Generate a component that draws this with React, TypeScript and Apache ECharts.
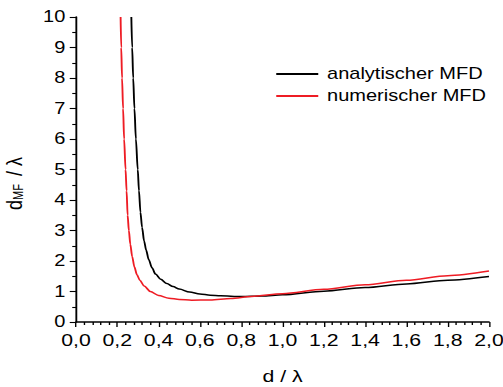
import React, { useEffect, useRef } from "react";
import * as echarts from "echarts";

const xMin = 0;
const xMax = 2;
const xStep = 0.2;
const yMin = 0;
const yMax = 10;
const yStep = 1;

const seriesNames = ["analytischer MFD", "numerischer MFD"];

const dAnalytic = [0.268, 0.272, 0.277, 0.283, 0.29, 0.299, 0.305, 0.312, 0.32, 0.33, 0.34, 0.352, 0.368, 0.385, 0.41, 0.44, 0.47, 0.5, 0.55, 0.6, 0.65, 0.7, 0.8, 0.9, 1.0, 1.2, 1.4, 1.6, 1.8, 2.0];
const mfdAnalytic = [10, 9, 8, 7, 6, 5, 4.3, 3.6, 3.1, 2.65, 2.35, 2.05, 1.78, 1.57, 1.4, 1.26, 1.16, 1.08, 0.98, 0.92, 0.88, 0.86, 0.835, 0.85, 0.89, 1.01, 1.13, 1.25, 1.37, 1.49];

const dNumeric = [0.216, 0.219, 0.223, 0.228, 0.233, 0.24, 0.245, 0.25, 0.256, 0.263, 0.272, 0.283, 0.295, 0.31, 0.33, 0.36, 0.4, 0.45, 0.5, 0.56, 0.65, 0.75, 0.85, 1.0, 1.2, 1.4, 1.6, 1.8, 2.0];
const mfdNumeric = [10, 9, 8, 7, 6, 5, 4.3, 3.5, 3.0, 2.55, 2.15, 1.8, 1.55, 1.36, 1.18, 1.0, 0.87, 0.78, 0.74, 0.715, 0.72, 0.77, 0.84, 0.93, 1.07, 1.22, 1.37, 1.52, 1.67];

const FONT = "'Liberation Sans', Arial, sans-serif";
const FULL_W = 503;
const BASE_W = 402;
const SX = FULL_W / BASE_W;

export default function App() {
  const ref = useRef<HTMLDivElement>(null);
  useEffect(() => {
    if (!ref.current) return;
    const chart = echarts.init(ref.current, undefined, { renderer: "svg" });
    const zip = (xs: number[], ys: number[]) => xs.map((x, i) => [x, ys[i]]);
    chart.setOption({
      animation: false,
      backgroundColor: "#fff",
      textStyle: { fontFamily: FONT },
      grid: { left: 76 / SX, right: 14 / SX, top: 17, bottom: 65, containLabel: false, outerBoundsMode: "none" },
      legend: {
        orient: "vertical",
        left: 270 / SX,
        top: 61,
        itemWidth: 42 / SX,
        itemHeight: 2,
        itemGap: 6,
        icon: "rect",
        textStyle: { fontFamily: FONT, fontSize: 16, color: "#000", padding: [0, 0, 0, 2] },
        data: seriesNames,
      },
      xAxis: {
        type: "value",
        min: xMin,
        max: xMax,
        interval: xStep,
        name: "d / λ",
        nameLocation: "middle",
        nameGap: 46,
        nameTextStyle: { fontFamily: FONT, fontSize: 17, color: "#000" },
        axisLine: { show: true, onZero: false, lineStyle: { color: "#000", width: 1.5 } },
        axisTick: { show: true, inside: false, length: 5, lineStyle: { color: "#000", width: 1.1 } },
        minorTick: { show: true, splitNumber: 5, length: 3, lineStyle: { color: "#000", width: 1.1 } },
        splitLine: { show: false },
        axisLabel: {
          color: "#000",
          fontFamily: FONT,
          fontSize: 17,
          margin: 10,
          formatter: (v: number) => v.toFixed(1).replace(".", ","),
        },
      },
      yAxis: {
        type: "value",
        min: yMin,
        max: yMax,
        interval: yStep,
        name: "{d|d}{s|MF}{d| / λ}",
        nameLocation: "middle",
        nameGap: 40,
        nameRotate: 90,
        nameTextStyle: {
          color: "#000",
          padding: [0, 28, 0, 0],
          rich: {
            d: { fontFamily: FONT, fontSize: 18, color: "#000" },
            s: { fontFamily: FONT, fontSize: 11, color: "#000", verticalAlign: "bottom", padding: [8, 3, 0, 0] },
          },
        },
        axisLine: { show: true, onZero: false, lineStyle: { color: "#000", width: 1.5 } },
        axisTick: { show: true, inside: false, length: 5, lineStyle: { color: "#000", width: 1.1 } },
        minorTick: { show: true, splitNumber: 2, length: 3, lineStyle: { color: "#000", width: 1.1 } },
        splitLine: { show: false },
        axisLabel: { color: "#000", fontFamily: FONT, fontSize: 16, margin: 8.5 },
      },
      series: [
        {
          name: seriesNames[0],
          type: "line",
          data: zip(dAnalytic, mfdAnalytic),
          showSymbol: false,
          smooth: 0.3,
          smoothMonotone: "x",
          clip: true,
          lineStyle: { color: "#000000", width: 1.5 },
          itemStyle: { color: "#000000" },
        },
        {
          name: seriesNames[1],
          type: "line",
          data: zip(dNumeric, mfdNumeric),
          showSymbol: false,
          smooth: 0.3,
          smoothMonotone: "x",
          clip: true,
          lineStyle: { color: "#ee1c24", width: 1.5 },
          itemStyle: { color: "#ee1c24" },
        },
      ],
    });
    return () => chart.dispose();
  }, []);
  return (
    <div style={{ position: "absolute", left: 0, top: 0, width: FULL_W, height: 387, overflow: "hidden", background: "#fff" }}>
      <div
        ref={ref}
        style={{ width: BASE_W, height: 387, transform: `scaleX(${SX})`, transformOrigin: "0 0" }}
      />
    </div>
  );
}
